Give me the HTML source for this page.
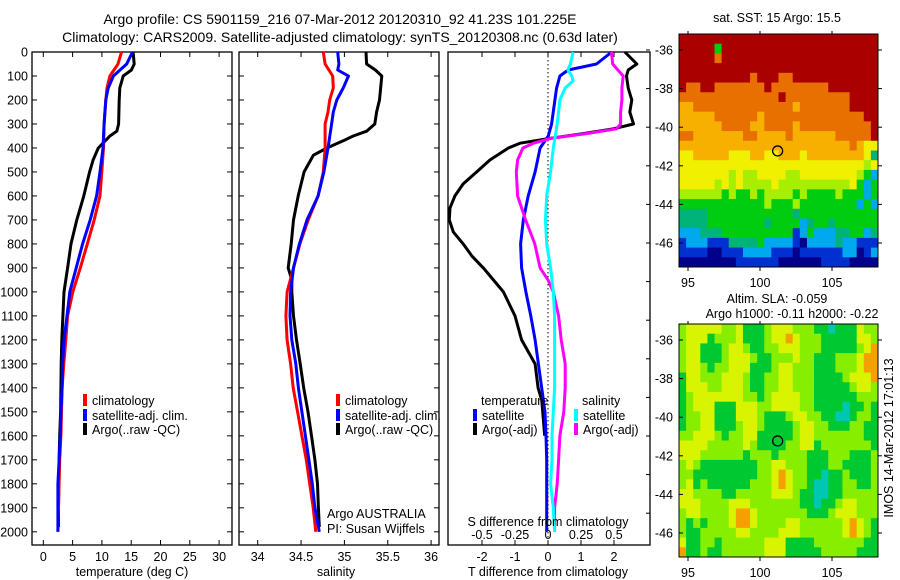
<!DOCTYPE html>
<html><head><meta charset="utf-8"><style>
body{margin:0;background:#fff}
svg{display:block;font-family:"Liberation Sans",sans-serif}
text{font-size:12.5px;fill:#000}
</style></head><body>
<svg id="chart" width="900" height="580" viewBox="0 0 900 580">
<text x="340" y="24" text-anchor="middle" style="font-size:14px">Argo profile: CS 5901159_216 07-Mar-2012 20120310_92 41.23S 101.225E</text>
<text x="340" y="42" text-anchor="middle" style="font-size:14px">Climatology: CARS2009. Satellite-adjusted climatology: synTS_20120308.nc (0.63d later)</text>
<g id="g"></g>
</svg>
<script>
// ---- temperature panel data ----
const depthClim = [0,50,100,150,200,300,400,500,600,700,800,900,1000,1100,1200,1300,1400,1500,1600,1700,1800,1900,2000];
const tempClim = [13.34,12.75,11.36,10.87,10.67,10.37,10.27,9.98,9.68,8.69,7.5,6.31,5.03,4.14,3.84,3.5,3.2,3.1,3.0,2.8,2.7,2.6,2.5];
const tempSat = [15.22,14.23,11.96,11.07,10.67,10.37,10.18,9.68,9.09,8.0,6.71,5.62,4.53,4.04,3.54,3.3,3.2,3.0,2.9,2.7,2.5,2.5,2.5];
const depthArgoT = [0,50,75,100,150,200,300,330,350,380,400,450,500,600,700,800,900,1000,1100,1200,1300,1400,1500,1600,1700,1800,1900,1980];
const tempArgo = [15.32,15.52,15.03,13.64,13.05,12.95,12.85,12.55,11.36,10.18,9.38,8.49,7.9,6.91,5.72,4.73,4.14,3.54,3.34,3.15,3.05,3.0,2.95,2.8,2.7,2.65,2.6,2.6];
// ---- salinity panel data ----
const depthSClim = [0,50,100,150,200,250,300,400,500,600,700,800,900,1000,1100,1200,1300,1400,1500,1600,1700,1800,1900,2000];
const salClim = [34.757,34.777,34.865,34.872,34.831,34.811,34.777,34.777,34.757,34.697,34.582,34.487,34.413,34.339,34.325,34.339,34.38,34.41,34.46,34.51,34.56,34.60,34.64,34.67];
const depthSSat = [0,50,75,100,150,200,250,300,400,500,600,700,800,900,1000,1100,1200,1300,1400,1500,1600,1700,1800,1900,2000];
const salSat = [34.923,34.936,34.923,35.047,34.986,34.912,34.872,34.852,34.811,34.764,34.697,34.569,34.481,34.413,34.379,34.373,34.393,34.44,34.47,34.51,34.55,34.59,34.63,34.66,34.71];
const depthSArgo = [0,50,75,100,200,250,300,330,350,370,400,430,500,600,700,800,900,950,1000,1100,1200,1300,1400,1500,1600,1700,1800,1900,1980];
const salArgo = [35.249,35.256,35.357,35.431,35.405,35.371,35.351,35.256,35.101,34.986,34.798,34.643,34.535,34.467,34.413,34.386,34.352,34.393,34.393,34.413,34.447,34.49,34.53,34.58,34.62,34.66,34.69,34.70,34.71];
// ---- difference panel data ----
const depthDiffSat = [0,50,75,100,150,200,300,350,400,500,600,700,800,900,1000,1100,1200,1300,1400,1500,1600,1700,1800,1900,2000];
const dTempSat = [1.93,1.47,0.61,0.36,0.26,0.21,0.11,0.01,-0.24,-0.39,-0.6,-0.75,-0.83,-0.8,-0.67,-0.52,-0.39,-0.29,-0.19,-0.09,-0.06,-0.04,-0.04,-0.04,-0.04];
const depthDiffArgoT = [0,50,75,100,150,200,250,300,320,340,360,380,400,450,500,550,600,650,700,750,800,850,900,1000,1100,1200,1300,1400,1450,1500,1550,1600];
const dTempArgo = [2.33,2.69,2.43,2.38,2.43,2.54,2.48,2.59,1.98,1.07,0.06,-0.85,-1.2,-1.76,-2.16,-2.57,-2.82,-2.97,-2.99,-2.87,-2.57,-2.31,-1.96,-1.35,-1.0,-0.8,-0.39,-0.3,-0.19,-0.16,-0.13,-0.1];
const depthDiffSSat = [0,50,75,100,120,150,200,250,300,400,500,600,700,800,900,1000,1100,1200,1300,1400,1500,1600,1700,1800,1900,2000];
const dSalSat = [0.19,0.17,0.15,0.18,0.19,0.13,0.09,0.08,0.07,0.04,0.02,-0.01,-0.02,-0.01,0.02,0.04,0.05,0.05,0.05,0.05,0.04,0.03,0.03,0.02,0.04,0.05];
const depthDiffSArgo = [0,50,100,150,200,250,300,320,340,360,380,400,450,500,600,700,800,900,950,1000,1100,1200,1300,1400,1500,1600,1700,1800,1900,2000];
const dSalArgo = [0.48,0.49,0.57,0.56,0.56,0.55,0.55,0.52,0.29,0.02,-0.11,-0.19,-0.23,-0.24,-0.23,-0.17,-0.10,-0.06,0.0,0.04,0.08,0.1,0.13,0.13,0.12,0.09,0.08,0.07,0.05,0.05];
// ---- tick labels ----
const depthTicks = [0,100,200,300,400,500,600,700,800,900,1000,1100,1200,1300,1400,1500,1600,1700,1800,1900,2000];
const tempTicks = [0,5,10,15,20,25,30];
const salTicks = [34,34.5,35,35.5,36];
const dTempTicks = [-2,-1,0,1,2];
const dSalTicks = [-0.5,-0.25,0,0.25,0.5];
const lonTicks = [95,100,105];
const latTicks = [-36,-38,-40,-42,-44,-46];
const argoLon = 101.225, argoLat = -41.23;
// ---- map grids (0.5 deg cells, colour level codes) ----
const sstGrid = [
"9999999999999999999999999999",
"9999949999999999999999999999",
"9999989999999999999999999999",
"9999999999999999999999999999",
"9999999999899988999999999999",
"9889988888889888888889999999",
"8888888888888898888888889999",
"7788888888888888788888889999",
"7777788888878888888888888899",
"7777778888778888788888888889",
"8877777778877778777777888889",
"7777777777777777777777778766",
"6677777666776677767777777763",
"6666666666666666666666666656",
"6666666565566665566666666542",
"6666656565555655555555556424",
"5555554544545555454444544424",
"4444444444445444544444444242",
"3333444444444444344444444444",
"3333444444443444423443444444",
"2223334444444444124222334423",
"1222111333342222102222322111",
"1111001112222111011111122012",
"0000000011111100000011110000"];
const slaGrid = [
"lyyyyyllyggglyyylllggcgggyll","lyyyglllyggglyyoylllgggggyyl","lyygggly ylggllyyylllggggglyo".replace(' ',''),
"lyyggglyyylgglllyllggglllyoo","lyylgllyyyggglyylllggglllyoo","gyylllyyylggllyylllgggglyyyo",
"gyyyllyyylggllyylllggggglyyl","glyyyyyyyllglyyyyllgggggglll","glyyygggyyyllyyyyllggggcgglg",
"gllyygggyyylggglyyllggccgllg","gllyyggglyylgggglyyllgggllgg","llyyylgllyyggggglyylllllllgg",
"yyyylllllylggggllyyglllllllg","yyyllllllglllgllllggglllgggl","lylggggggggllyylllgggllggggl",
"llgggggggggllyoyllggcgglgggl","lyglgggggglllyoyllgccggllggl","yyllllgglllllyyylggccgglllll",
"yyyllllyyylllllllggcgglyylll","lyyllllyooylllllllggglyyylll","lglglllyooyllllyyllllllyoylg",
"lgglllllyyllllyyyllllllyoylg","yggllgllllllyyygggglllllllgg","ogglggllllllyyyggggglllllggg"];

const NS="http://www.w3.org/2000/svg";
const G=document.getElementById('g');
function el(tag,attrs,parent){const e=document.createElementNS(NS,tag);for(const k in attrs)e.setAttribute(k,attrs[k]);(parent||G).appendChild(e);return e;}
function txt(x,y,s,anchor,parent){const t=el('text',{x:x,y:y,'text-anchor':anchor||'middle'},parent);t.textContent=s;return t;}

const Y0=52, YB=545, PX100=23.99;
const yD=d=>Y0+d*PX100/100;
const xT=t=>43.3+5.86*t;
const xS=s=>257.7+86.7*(s-34);
const xDT=t=>548+33*t;
const xDS=s=>548+132*s;

const panels=[{x0:32,x1:232,name:'temperature-panel'},{x0:239,x1:439,name:'salinity-panel'},{x0:448,x1:650,name:'difference-panel'}];
panels.forEach((p,i)=>{
  const r=el('rect',{x:p.x0,y:Y0,width:p.x1-p.x0,height:YB-Y0,fill:'none',stroke:'#000','stroke-width':1.3});
  
  
  if(i<2){depthTicks.forEach(d=>{
    el('line',{x1:p.x0,x2:p.x0+5,y1:yD(d),y2:yD(d),stroke:'#000'});
    el('line',{x1:p.x1,x2:p.x1-5,y1:yD(d),y2:yD(d),stroke:'#000'});
  });}
});
// depth labels
depthTicks.forEach(d=>{const t=txt(28,yD(d)+4.5,String(d),'end');
  
  });
// x ticks
function xticks(vals,fx,p,yl,fmt){vals.forEach(v=>{const x=fx(v);
  el('line',{x1:x,x2:x,y1:Y0,y2:Y0+5,stroke:'#000'});
  el('line',{x1:x,x2:x,y1:YB,y2:YB-5,stroke:'#000'});
  if(yl){const t=txt(x,yl,fmt?fmt(v):String(v));
  
  }});}
xticks(tempTicks,xT,panels[0],561);
xticks(salTicks,xS,panels[1],561);
dTempTicks.forEach(v=>{const t=txt(xDT(v),561,String(v));
  
  
  el('line',{x1:xDT(v),x2:xDT(v),y1:YB,y2:YB-5,stroke:'#000'});
  el('line',{x1:xDT(v),x2:xDT(v),y1:Y0,y2:Y0+5,stroke:'#000'});});
dSalTicks.forEach(v=>{const t=txt(xDS(v),539,String(v));
  
  });
for(let y=50;y<YB;y+=38.6){el('line',{x1:650,x2:646,y1:y,y2:y,stroke:'#000'});}
// zero line
el('line',{x1:xDT(0),x2:xDT(0),y1:Y0,y2:YB,stroke:'#000','stroke-dasharray':'1.5,2.5','stroke-width':1});

function line(ds,vs,fx,color,name){
  const pts=ds.map((d,i)=>fx(vs[i]).toFixed(1)+','+yD(d).toFixed(1)).join(' ');
  const pl=el('polyline',{points:pts,fill:'none',stroke:color,'stroke-width':3,'stroke-linejoin':'round'});
  
  
}
line(depthArgoT,tempArgo,xT,'#000','temp-argo-line');
line(depthClim,tempClim,xT,'#f00','temp-climatology-line');
line(depthClim,tempSat,xT,'#00f','temp-satellite-line');
line(depthSArgo,salArgo,xS,'#000','sal-argo-line');
line(depthSClim,salClim,xS,'#f00','sal-climatology-line');
line(depthSSat,salSat,xS,'#00f','sal-satellite-line');
line(depthDiffArgoT,dTempArgo,xDT,'#000','dtemp-argo-line');
line(depthDiffSat,dTempSat,xDT,'#00f','dtemp-satellite-line');
line(depthDiffSArgo,dSalArgo,xDS,'#f0f','dsal-argo-line');
line(depthDiffSSat,dSalSat,xDS,'#0ff','dsal-satellite-line');

// legends
function leg(x,y,color,label,name){
  const g=el('g',{});
  
  
  el('rect',{x:x,y:y-11,width:4,height:12,fill:color},g);
  txt(x+9,y,label,'start',g);
}
leg(83,405,'#f00','climatology','legend-climatology');
leg(83,420,'#00f','satellite-adj. clim.','legend-satellite');
leg(83,434,'#000','Argo(..raw -QC)','legend-argo');
leg(336,405,'#f00','climatology','legend-climatology-sal');
leg(336,420,'#00f','satellite-adj. clim.','legend-satellite-sal');
leg(336,434,'#000','Argo(..raw -QC)','legend-argo-sal');
txt(481,405,'temperature','start');
leg(473,420,'#00f','satellite','legend-dtemp-satellite');
leg(473,434,'#000','Argo(-adj)','legend-dtemp-argo');
txt(582,405,'salinity','start');
leg(574,420,'#0ff','satellite','legend-dsal-satellite');
leg(574,434,'#f0f','Argo(-adj)','legend-dsal-argo');
txt(327,518,'Argo AUSTRALIA','start');
txt(327,533,'PI: Susan Wijffels','start');
txt(548,526,'S difference from climatology');
let t;
t=txt(132,576,'temperature (deg C)');
t=txt(336,576,'salinity');
t=txt(548,576,'T difference from climatology');

// maps
const sstCol={'0':'#00008a','1':'#0030d0','2':'#00a8f0','3':'#00b478','4':'#00cc10','5':'#a8ee00','6':'#f0f000','7':'#f8b000','8':'#e87000','9':'#aa0000'};
const slaCol={g:'#00c830',l:'#88ee00',y:'#d8f400',o:'#f4a000',c:'#00c8b0'};
const MX0=679,MX1=878,LON0=94.4,LONPX=14.4;
const xLon=l=>688+(l-95)*LONPX;
function drawMap(grid,cols,top,name,title){
  const MY0=top, latY=l=>top+16+(-36-l)*19.3;
  const cw=(MX1-MX0)/28, ch=233/24;
  const g=el('g',{});
  
  
  grid.forEach((row,r)=>{for(let c=0;c<28;c++){const k=row.charAt(c)||row.charAt(row.length-1);
    const cell=el('rect',{x:(MX0+c*cw).toFixed(2),y:(MY0+r*ch).toFixed(2),width:(cw+0.4).toFixed(2),height:(ch+0.4).toFixed(2),fill:cols[k]||'#888'},g);}});
  el('rect',{x:MX0,y:MY0,width:MX1-MX0,height:233,fill:'none',stroke:'#000','stroke-width':1},g);
  latTicks.forEach(l=>{const y=latY(l);el('line',{x1:MX0,x2:MX0+4,y1:y,y2:y,stroke:'#000'},g);el('line',{x1:MX1,x2:MX1+4,y1:y,y2:y,stroke:'#000'},g);
    const tt=txt(673,y+4.5,String(l),'end',g);
    
    });
  lonTicks.forEach(l=>{const x=xLon(l);el('line',{x1:x,x2:x,y1:MY0+233,y2:MY0+237,stroke:'#000'},g);el('line',{x1:x,x2:x,y1:MY0,y2:MY0-3,stroke:'#000'},g);
    const tt=txt(x,MY0+253,String(l),'middle',g);
    
    });
  const c=el('circle',{cx:xLon(argoLon),cy:latY(argoLat),r:5,fill:'none',stroke:'#000','stroke-width':1.3},g);
  
  
}
drawMap(sstGrid,sstCol,34,'sst-map');
drawMap(slaGrid,slaCol,324,'sla-map');
t=txt(777,22,'sat. SST: 15 Argo: 15.5');
t=txt(777,303,'Altim. SLA: -0.059');
t=txt(792,318,'Argo h1000: -0.11 h2000: -0.22');
t=txt(0,0,'IMOS 14-Mar-2012 17:01:13');t.setAttribute('transform','translate(893,438) rotate(-90)');


</script>
</body></html>
